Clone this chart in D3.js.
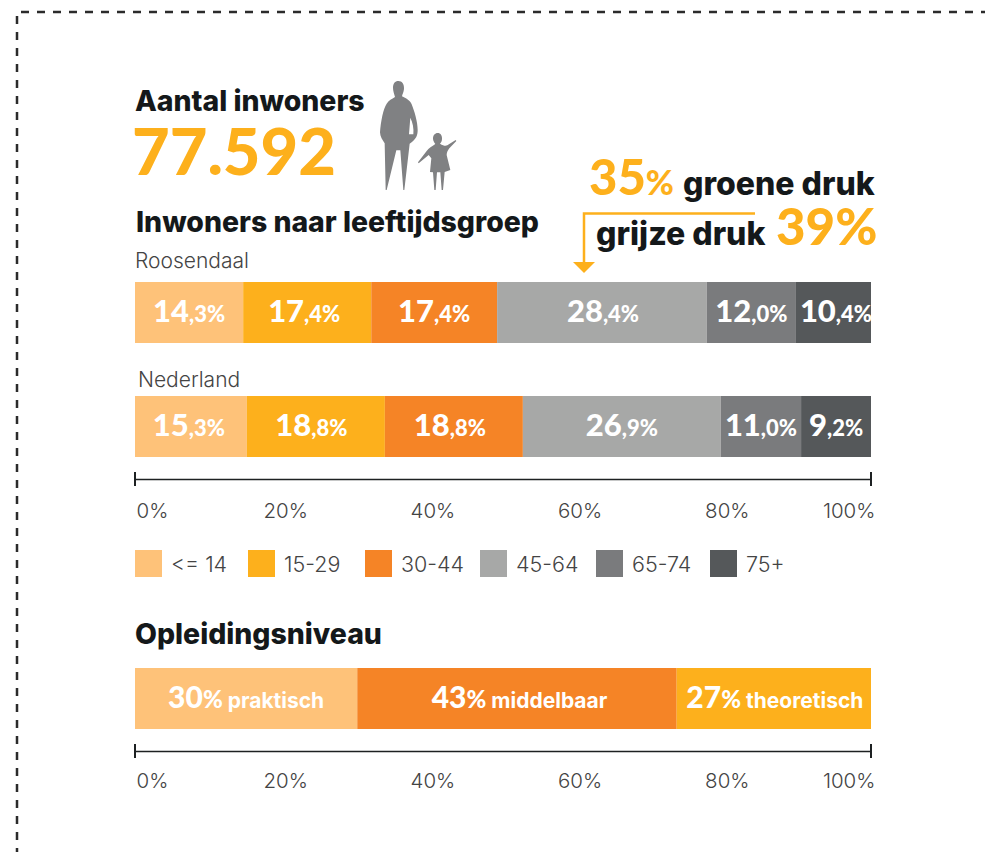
<!DOCTYPE html>
<html>
<head>
<meta charset="utf-8">
<script src="https://cdn.jsdelivr.net/npm/d3@7/dist/d3.min.js"></script>
<style>
  html, body { margin: 0; padding: 0; background: #fff; }
  svg { display: block; }
  text { font-family: Lato, "Open Sans", sans-serif; }
  .heading { font-family: Inter, Lato, sans-serif; font-weight: 800; fill: #14181a; }
  .big { font-weight: 900; fill: #fdb01c; }
  .place { font-family: Inter, Lato, sans-serif; font-weight: 300; fill: #444; }
  .bar-label { font-weight: 900; fill: #fff; text-anchor: middle; }
  .edu-name { font-family: Inter, Lato, sans-serif; font-weight: 700; }
</style>
</head>
<body>
<div id="chart"></div>
<script>
var width = 985
var height = 852

// age groups
var ageGroups = ['<= 14', '15-29', '30-44', '45-64', '65-74', '75+']
var ageColors = ['#fec279', '#fdb01c', '#f58426', '#a7a8a7', '#7a7b7d', '#55585a']

// bar lengths as measured on the picture, printed labels kept apart
var roosendaalLengths = [14.7, 17.4, 17.1, 28.5, 12.1, 10.2]
var roosendaalWhole = ['14', '17', '17', '28', '12', '10']
var roosendaalDecimal = [',3%', ',4%', ',4%', ',4%', ',0%', ',4%']

var nederlandLengths = [15.2, 18.75, 18.75, 26.9, 10.9, 9.5]
var nederlandWhole = ['15', '18', '18', '26', '11', '9']
var nederlandDecimal = [',3%', ',8%', ',8%', ',9%', ',0%', ',2%']

// education
var eduNames = ['praktisch', 'middelbaar', 'theoretisch']
var eduLengths = [30.2, 43.4, 26.4]
var eduWhole = ['30', '43', '27']
var eduColors = ['#fec279', '#f58426', '#fdb01c']

var axisTicks = [0, 20, 40, 60, 80, 100]

// labels are not quite centred in the original
var roosendaalShift = [0, -3, 0, 1, 0, 2.5]
var nederlandShift = [-2, -4.5, -4, 0, 0, 0]
var eduShift = [0, 2.5, 1]

var svg = d3
  .select('#chart')
  .append('svg')
  .attr('width', width)
  .attr('height', height)

var xScale = d3
  .scaleLinear()
  .domain([0, 100])
  .range([135, 871])

// dashed frame, open on the right and at the bottom
svg
  .append('path')
  .attr('d', 'M17,852V12H985')
  .attr('fill', 'none')
  .attr('stroke', '#2b2b2b')
  .attr('stroke-width', 2.5)
  .attr('stroke-dasharray', '8 8')
  .attr('stroke-dashoffset', 4)

function addText(x, y, size, cls, str) {
  return svg
    .append('text')
    .attr('x', x)
    .attr('y', y)
    .attr('font-size', size)
    .attr('class', cls)
    .text(str)
}

addText(135, 111, 28.4, 'heading', 'Aantal inwoners')
addText(132, 175, 65, 'big', '77.592')
addText(136, 232, 28.4, 'heading', 'Inwoners naar leeftijdsgroep')
addText(135, 268, 21, 'place', 'Roosendaal')
addText(138, 387, 21, 'place', 'Nederland')
addText(135, 644, 28.4, 'heading', 'Opleidingsniveau')

// groene / grijze druk
var groen = addText(589, 195, 49, 'big', '35')
groen
  .append('tspan')
  .attr('font-size', 34)
  .text('%')
addText(683, 195, 32, 'heading', 'groene druk')
addText(596, 245, 32, 'heading', 'grijze druk')
addText(776, 245, 51, 'big', '39%')

svg
  .append('path')
  .attr('d', 'M755,213.5H584V264')
  .attr('fill', 'none')
  .attr('stroke', '#fdb01c')
  .attr('stroke-width', 2.5)
svg
  .append('path')
  .attr('d', 'M573,262H595L584,273Z')
  .attr('fill', '#fdb01c')

// silhouettes
var people = svg
  .append('g')
  .attr('transform', 'translate(370,75) scale(0.3333)')
  .attr('fill', '#808183')
people
  .append('path')
  .attr(
    'd',
    'M85,18C97,18 103,28 102,42C101,52 97,58 96,64C108,70 120,76 125,88C133,108 143,140 143,165C143,180 140,192 119,206L103,345H100L91,226H79L50,345H47L44,205C38,195 30,185 30,172C32,140 40,100 50,86C56,76 66,72 75,66C72,54 69,48 69,38C69,26 75,18 85,18ZM121,128L117,178H130C132,160 128,142 121,128Z'
  )
  .attr('fill-rule', 'evenodd')
people
  .append('path')
  .attr(
    'd',
    'M203,174C212,174 217,182 216,192C216,198 213,203 210,206C220,212 226,214 232,211L257,195L259,198L238,220C234,226 230,232 230,240L241,285L224,291L219,345H215L211,292H201L197,345H193L189,292L180,291L184,250L176,240L146,265L144,262L170,228C176,220 186,214 196,207C192,202 189,197 189,190C189,181 195,174 203,174Z'
  )

// one stacked bar
function drawBar(top, lengths, colors, shift, labelFn) {
  var start = 0
  var segments = lengths.map(function(d, i) {
    var seg = { from: start, to: start + d, i: i }
    start += d
    return seg
  })

  var g = svg.append('g')

  g.selectAll('rect')
    .data(segments)
    .enter()
    .append('rect')
    .attr('x', d => xScale(d.from))
    .attr('y', top)
    .attr('width', d => xScale(d.to) - xScale(d.from))
    .attr('height', 61)
    .attr('fill', d => colors[d.i])

  var labels = g
    .selectAll('text')
    .data(segments)
    .enter()
    .append('text')
    .attr('class', 'bar-label')
    .attr('x', d => (xScale(d.from) + xScale(d.to)) / 2 + shift[d.i])
    .attr('y', top + 40)

  labels.each(function(d) {
    labelFn(d3.select(this), d.i)
  })
}

function decimalLabel(whole, decimal) {
  return function(el, i) {
    el.append('tspan')
      .attr('font-size', 31)
      .text(whole[i])
    el.append('tspan')
      .attr('font-size', 22)
      .text(decimal[i])
  }
}

drawBar(282, roosendaalLengths, ageColors, roosendaalShift, decimalLabel(roosendaalWhole, roosendaalDecimal))
drawBar(396, nederlandLengths, ageColors, nederlandShift, decimalLabel(nederlandWhole, nederlandDecimal))
drawBar(668, eduLengths, eduColors, eduShift, function(el, i) {
  el.append('tspan')
    .attr('font-size', 30)
    .text(eduWhole[i])
  el.append('tspan')
    .attr('font-size', 24)
    .text('%')
  el.append('tspan')
    .attr('class', 'edu-name')
    .attr('font-size', 21)
    .attr('dx', 5)
    .text(eduNames[i])
})

// axis with end caps only
function drawAxis(y, labelY) {
  var axis = d3
    .axisBottom(xScale)
    .tickValues(axisTicks)
    .tickSize(0)
    .tickPadding(labelY - y - 15)
    .tickFormat(d => d + '%')

  var g = svg
    .append('g')
    .attr('transform', 'translate(0,' + y + ')')
    .call(axis)

  g.select('.domain')
    .attr('stroke', '#1d2122')
    .attr('stroke-width', 1.5)

  g.selectAll('.tick text')
    .attr('class', 'place')
    .attr('font-size', 20.5)
    .attr('text-anchor', d => (d === 0 ? 'start' : d === 100 ? 'end' : 'middle'))
    .attr('dx', d => (d === 0 ? 1 : d === 100 ? 4 : 3))

  g.selectAll('.cap')
    .data([0, 100])
    .enter()
    .append('line')
    .attr('class', 'cap')
    .attr('x1', d => xScale(d))
    .attr('x2', d => xScale(d))
    .attr('y1', -7)
    .attr('y2', 7)
    .attr('stroke', '#1d2122')
    .attr('stroke-width', 2)
}

drawAxis(479, 518)
drawAxis(751, 788)

// legend
var legendX = [135, 248, 365, 480, 596, 710]
var legend = svg
  .selectAll('.legend')
  .data(ageGroups)
  .enter()
  .append('g')
  .attr('class', 'legend')
  .attr('transform', (d, i) => 'translate(' + legendX[i] + ',550)')

legend
  .append('rect')
  .attr('width', 27)
  .attr('height', 27)
  .attr('fill', (d, i) => ageColors[i])

legend
  .append('text')
  .attr('class', 'place')
  .attr('x', 36)
  .attr('y', 22)
  .attr('font-size', 21.5)
  .text(d => d)
</script>
</body>
</html>
